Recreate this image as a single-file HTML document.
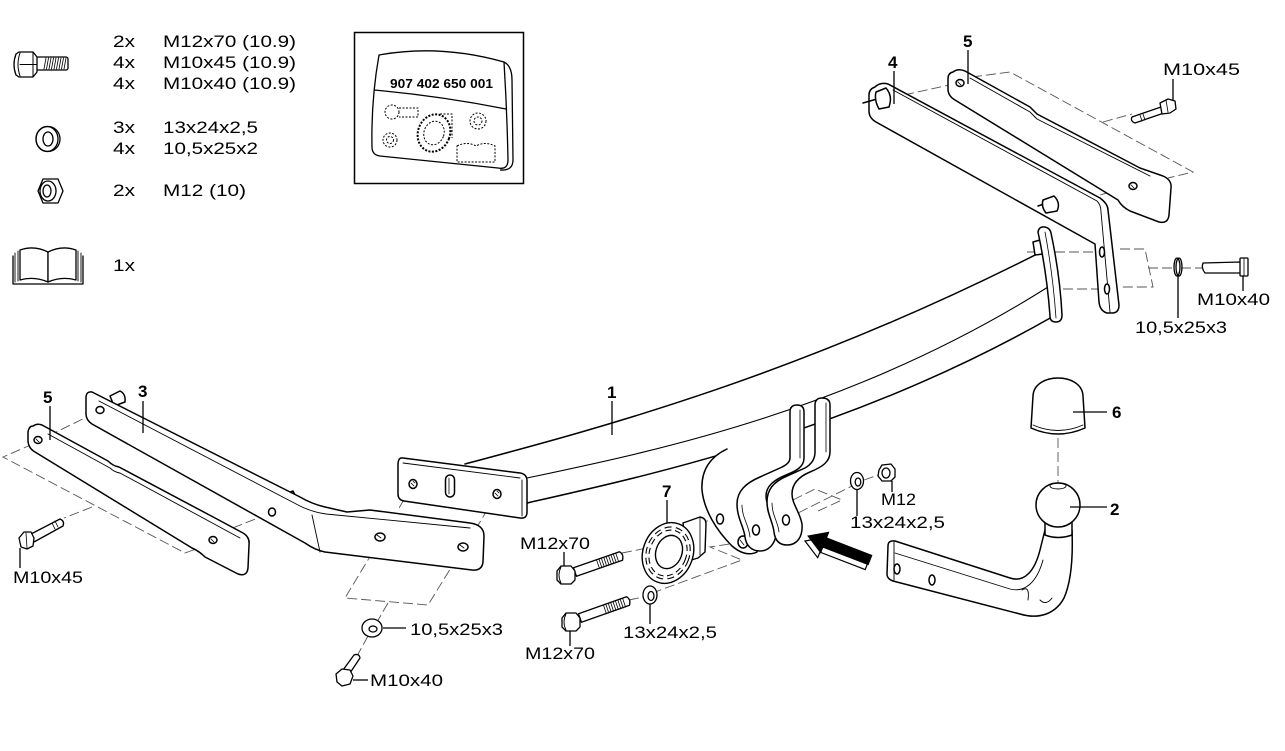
<!DOCTYPE html>
<html><head><meta charset="utf-8"><style>
html,body{margin:0;padding:0;background:#fff;}
svg{display:block}
text{font-family:"Liberation Sans",Arial,sans-serif;fill:#000;stroke:none}
.n{font-weight:bold;font-size:17px}
.l{font-size:17px}
</style></head><body>
<svg width="1285" height="751" viewBox="0 0 1285 751" xmlns="http://www.w3.org/2000/svg">
<rect width="1285" height="751" fill="#fff"/>

<!-- LEGEND ICONS -->
<g fill="#fff" stroke="#000" stroke-width="1.3" stroke-linejoin="round" stroke-linecap="round">
  <!-- bolt -->
  <rect x="36" y="57" width="32" height="13" rx="2"/>
  <path d="M46,58 l-2,11 M48.5,58 l-2,11 M51,58 l-2,11 M53.5,58 l-2,11 M56,58 l-2,11 M58.5,58 l-2,11 M61,58 l-2,11 M63.5,58 l-2,11 M66,58 l-2,11" fill="none" stroke-width="0.8"/>
  <path d="M16,54 Q12,64.5 16,75 L19,77 L33,77 L37,72 L37,57 L33,52 L19,52 Z"/>
  <path d="M20,53 Q16,64.5 20,76 M33,52 V77 M20,64.5 H37" fill="none" stroke-width="1"/>
  <!-- washer -->
  <ellipse cx="48" cy="139" rx="12" ry="12.5"/>
  <ellipse cx="47" cy="139" rx="11" ry="12.5" fill="none"/>
  <ellipse cx="48" cy="139" rx="5" ry="7"/>
  <!-- nut -->
  <polygon points="38,191 43,179 58,179 63,191 58,203 43,203"/>
  <ellipse cx="48" cy="191" rx="8" ry="10" fill="none"/>
  <ellipse cx="47" cy="191" rx="4" ry="6" fill="none"/>
  <!-- book -->
  <path d="M13,256 V284 H83 V256" fill="none"/>
  <path d="M15,253 V282 M18,251 V281 M78,251 V281 M81,253 V282" fill="none" stroke-width="0.9"/>
  <path d="M20,250 Q34,245 48,252 L48,282 Q34,276 20,280 Z"/>
  <path d="M48,252 Q62,245 76,250 L76,280 Q62,276 48,282 Z"/>
</g>

<!-- LEGEND TEXT -->
<text class="l" x="113" y="47" textLength="22" lengthAdjust="spacingAndGlyphs">2x</text>
<text class="l" x="163" y="47" textLength="133" lengthAdjust="spacingAndGlyphs">M12x70 (10.9)</text>
<text class="l" x="113" y="68" textLength="22" lengthAdjust="spacingAndGlyphs">4x</text>
<text class="l" x="163" y="68" textLength="133" lengthAdjust="spacingAndGlyphs">M10x45 (10.9)</text>
<text class="l" x="113" y="89" textLength="22" lengthAdjust="spacingAndGlyphs">4x</text>
<text class="l" x="163" y="89" textLength="133" lengthAdjust="spacingAndGlyphs">M10x40 (10.9)</text>
<text class="l" x="113" y="133" textLength="22" lengthAdjust="spacingAndGlyphs">3x</text>
<text class="l" x="163" y="133" textLength="95" lengthAdjust="spacingAndGlyphs">13x24x2,5</text>
<text class="l" x="113" y="154" textLength="22" lengthAdjust="spacingAndGlyphs">4x</text>
<text class="l" x="163" y="154" textLength="95" lengthAdjust="spacingAndGlyphs">10,5x25x2</text>
<text class="l" x="113" y="196" textLength="22" lengthAdjust="spacingAndGlyphs">2x</text>
<text class="l" x="163" y="196" textLength="83" lengthAdjust="spacingAndGlyphs">M12 (10)</text>
<text class="l" x="113" y="271" textLength="22" lengthAdjust="spacingAndGlyphs">1x</text>

<!-- KIT BOX -->
<rect x="354.5" y="32.5" width="169" height="151" fill="none" stroke="#000" stroke-width="1.5"/>
<g fill="none" stroke="#000" stroke-width="1.3" stroke-linejoin="round">
  <path d="M379,55 Q440,44 504,62 Q507,110 508,160 Q508,170 498,168 Q440,162 380,156 Q372,155 372,147 Q371,100 379,55 Z" fill="#fff"/>
  <path d="M504,62 Q512,66 512,80 L513,160 Q513,171 500,170"/>
  <path d="M374,90 Q440,96 506,109"/>
  <g stroke-dasharray="2 1.5" stroke-width="1">
    <circle cx="392" cy="112" r="7"/>
    <path d="M399,108 H418 V117 H399"/>
    <circle cx="390" cy="140" r="7"/>
    <circle cx="390" cy="140" r="3.5"/>
    <ellipse cx="434" cy="133" rx="16" ry="19" transform="rotate(20 434 133)" stroke-width="2"/>
    <ellipse cx="434" cy="133" rx="10" ry="12" transform="rotate(20 434 133)"/>
    <path d="M440,114 H452 V138"/>
    <circle cx="478" cy="121" r="8"/>
    <circle cx="478" cy="121" r="4"/>
    <path d="M457,146 Q467,141 476,146 Q485,141 495,146 V162 H457 Z"/>
  </g>
</g>
<text x="390" y="88" font-weight="bold" font-size="12.5" textLength="103" lengthAdjust="spacingAndGlyphs">907 402 650 001</text>

<!-- DASHED ASSEMBLY LINES -->
<g fill="none" stroke="#555" stroke-width="0.9" stroke-dasharray="10 4">
  <path d="M904,95 L958,83"/>
  <path d="M972,77 L1010,72 L1193,172 L1168,178"/>
  <path d="M1103,122 L1132,114"/>
  <path d="M1060,207 L1130,186"/>
  <path d="M1027,252 L1100,252"/>
  <path d="M1063,289 L1110,289"/>
  <path d="M1120,249 L1145,249 L1153,287 L1122,287"/>
  <path d="M1148,268 L1174,268"/>
  <path d="M1181,268 L1203,268"/>
  <path d="M95,413 L50,435"/>
  <path d="M33,444 L3,457 L185,553 L207,545"/>
  <path d="M92,507 L64,518"/>
  <path d="M268,514 L220,533"/>
  <path d="M411,487 L398,510"/>
  <path d="M495,497 L477,527"/>
  <path d="M380,540 L345,598 L428,605 L462,550"/>
  <path d="M388,603 L377,622"/>
  <path d="M368,636 L357,656"/>
  <path d="M622,553 L652,547"/>
  <path d="M698,523 L720,518"/>
  <path d="M743,542 L710,547 L742,560 L655,592"/>
  <path d="M629,600 L643,597"/>
  <path d="M786,519 L852,486"/>
  <path d="M864,480 L881,474"/>
  <path d="M793,500 L815,489 L842,500 L818,511"/>
  <path d="M1058,438 L1058,487"/>
</g>

<!-- MAIN BEAM (part 1) -->
<g fill="none" stroke="#000" stroke-width="1.5" stroke-linejoin="round" stroke-linecap="round">
  <path d="M465,464 C600,428 800,375 1045,250"/>
  <path d="M527,478 C650,452 850,412 1048,287" stroke-width="1.1"/>
  <path d="M527,503 C650,475 850,432 1052,317"/>
  <path d="M403,458 L520,473 Q527,474 527,481 L527,512 Q527,519 520,518 L404,501 Q398,500 398,494 L398,465 Q398,457 403,458 Z" fill="#fff"/>
  <path d="M403,463 L520,478 M522,480 L522,516" stroke-width="0.9"/>
  <ellipse cx="413" cy="484" rx="4" ry="4.5" fill="#fff"/>
  <path d="M411,483 l3,3 M413,481 l2,2" stroke-width="0.8"/>
  <ellipse cx="497" cy="494" rx="4" ry="4.5" fill="#fff"/>
  <path d="M495,493 l3,3 M497,491 l2,2" stroke-width="0.8"/>
  <rect x="445.5" y="475" width="9" height="22" rx="4.5" fill="#fff"/>
  <path d="M449,478 V494" stroke-width="0.8"/>
  <path d="M1033,242 L1040,240 L1043,254 L1035,255 Z" fill="#fff"/>
  <path d="M1038,232 Q1039,226 1045,227 Q1050,228 1051,233 Q1060,275 1062,315 Q1062,322 1056,322 Q1050,322 1050,316 Q1047,274 1038,232 Z" fill="#fff"/>
  <path d="M1045,232 Q1053,275 1056,318" stroke-width="0.8"/>
</g>

<!-- CENTER BRACKET -->
<g fill="#fff" stroke="#000" stroke-width="1.5" stroke-linejoin="round" stroke-linecap="round">
  <path d="M727,449 C708,458 701,472 702,490 C704,510 716,530 732,546 C740,553 749,556 757,552 L765,540 L760,495 L792,470 L792,430 Z" stroke="none"/>
  <path d="M727,449 C708,458 701,472 702,490 C704,510 716,530 732,546 C740,553 749,556 757,552" fill="none"/>
  <ellipse cx="720" cy="519" rx="3.5" ry="5"/>
  <ellipse cx="743" cy="542" rx="5" ry="6"/>
  <path d="M740,540 l4,5" fill="none" stroke-width="0.8"/>
  <path d="M790,458 L790,412 Q790,405 797,405 Q804,405 804,412 L804,458 C804,467 796,471 786,475 C774,480 766,486 766,496 C766,506 774,514 776,526 C778,540 771,551 760,551 C751,551 746,545 745,537 C744,527 737,518 737,504 C737,491 746,483 760,477 L780,468 C787,465 790,462 790,458 Z"/>
  <path d="M800,410 V458 M742,505 C742,518 749,525 750,537" fill="none" stroke-width="0.8"/>
  <ellipse cx="756" cy="530" rx="3.5" ry="5"/>
  <path d="M815,452 L815,405 Q815,398 822,398 Q830,398 830,405 L830,452 C830,462 822,467 810,472 C798,477 792,484 792,494 C792,504 800,512 802,524 C803,537 797,545 787,545 C779,545 775,540 774,532 C773,522 767,514 767,502 C767,490 773,482 787,476 L805,468 C812,464 815,459 815,452 Z"/>
  <path d="M826,403 V452 M772,503 C772,515 778,522 779,532" fill="none" stroke-width="0.8"/>
  <ellipse cx="786" cy="520" rx="3.5" ry="5"/>
</g>

<!-- PART 7 socket plate -->
<g stroke="#000" stroke-width="1.4" stroke-linejoin="round">
  <path d="M683,523 L700,517 Q706,518 706,524 L705,552 L698,558 L688,561 Z" fill="#fff"/>
  <path d="M700,517 L700,555" fill="none" stroke-width="0.8"/>
  <ellipse cx="668" cy="553" rx="25" ry="31" transform="rotate(20 668 553)" fill="#fff"/>
  <ellipse cx="668" cy="553" rx="20" ry="25" transform="rotate(20 668 553)" fill="none" stroke-width="4.2" stroke-dasharray="6.5 4"/>
  <ellipse cx="668" cy="553" rx="20" ry="25" transform="rotate(20 668 553)" fill="none" stroke="#fff" stroke-width="2" stroke-dasharray="6.5 4"/>
  <ellipse cx="669" cy="552" rx="13" ry="17" transform="rotate(20 669 552)" fill="#fff"/>
</g>

<!-- LEFT PARTS 3 & 5 -->
<g fill="#fff" stroke="#000" stroke-width="1.5" stroke-linejoin="round" stroke-linecap="round">
  <path d="M110,396 L120,391 Q126,394 125,402 L114,406 Z"/>
  <path d="M286,494 L293,491 L296,497 L290,499 Z"/>
  <path d="M92,392 L300,497 Q312,504 325,507 L347,512 L370,510 L470,523 Q484,525 484,536 L483,562 Q482,571 472,570 L325,552 Q315,550 305,543 L92,424 Q86,420 86,414 L86,398 Q86,391 92,392 Z"/>
  <path d="M99,401 L300,506 Q312,512 326,514 L470,528" fill="none" stroke-width="0.9"/>
  <path d="M312,515 L320,552" fill="none" stroke-width="0.9"/>
  <ellipse cx="100" cy="410" rx="4" ry="3.5"/>
  <ellipse cx="272" cy="512" rx="3.5" ry="4"/>
  <ellipse cx="380" cy="537" rx="5" ry="4"/>
  <path d="M377,535 l4,3" fill="none" stroke-width="0.8"/>
  <ellipse cx="463" cy="547" rx="5" ry="4"/>
  <path d="M460,545 l4,3" fill="none" stroke-width="0.8"/>
  <path d="M33,426 Q37,423 42,425 L108,461 Q113,466 119,467 L215,518 L243,533 Q250,537 249,545 L248,568 Q247,577 238,574 L205,557 Q199,551 192,548 L35,452 Q28,448 28,440 L28,432 Q29,426 33,426 Z"/>
  <path d="M48,434 L110,468 Q114,472 120,473 L240,538" fill="none" stroke-width="0.9"/>
  <ellipse cx="38" cy="440" rx="4" ry="3.5"/>
  <path d="M36,439 l3,3" fill="none" stroke-width="0.8"/>
  <ellipse cx="213" cy="540" rx="4" ry="3.5"/>
  <path d="M211,539 l3,3" fill="none" stroke-width="0.8"/>
</g>

<!-- RIGHT PARTS 4 & 5 -->
<g fill="#fff" stroke="#000" stroke-width="1.5" stroke-linejoin="round" stroke-linecap="round">
  <path d="M875,87 Q880,82 888,84 L1100,198 Q1108,204 1108,210 L1119,305 Q1119,313 1112,313 L1107,313 Q1100,311 1099,302 L1095,244 L876,122 Q869,118 869,111 L869,95 Q869,89 875,87 Z"/>
  <path d="M893,90 L1097,201 Q1101,205 1101,212 L1110,312" fill="none" stroke-width="0.9"/>
  <ellipse cx="1102" cy="252" rx="2.5" ry="5"/>
  <ellipse cx="1107" cy="289" rx="2.5" ry="5"/>
  <path d="M863,103 L877,99" fill="none"/>
  <path d="M876,92 L886,88 Q893,96 889,107 L879,109 Q874,100 876,92 Z"/>
  <path d="M1038,206 L1044,204" fill="none"/>
  <path d="M1043,200 L1054,196 Q1061,203 1057,211 L1046,213 Q1041,207 1043,200 Z"/>
  <path d="M953,72 Q958,68 965,71 L1030,107 L1037,114 L1140,168 L1163,176 Q1172,180 1171,188 L1169,215 Q1168,224 1159,222 L1130,211 Q1122,207 1118,200 L955,100 Q948,96 948,89 L948,79 Q948,73 953,72 Z"/>
  <path d="M970,78 L1030,112 L1037,119 L1150,176" fill="none" stroke-width="0.9"/>
  <ellipse cx="960" cy="83" rx="4" ry="3.5"/>
  <path d="M958,82 l3,3" fill="none" stroke-width="0.8"/>
  <ellipse cx="1133" cy="186" rx="4" ry="3.5"/>
  <path d="M1131,185 l3,3" fill="none" stroke-width="0.8"/>
</g>

<!-- BOLTS / WASHERS / NUTS -->
<g fill="#fff" stroke="#000" stroke-width="1.3" stroke-linejoin="round" stroke-linecap="round">
  <path d="M1132,117 L1161,107 L1164,113 L1135,123 Q1130,121 1132,117 Z"/>
  <path d="M1140,115 l2,6 M1143,114 l2,6" fill="none" stroke-width="0.8"/>
  <path d="M1160,103 L1168,99 L1175,101 L1176,109 L1170,113 L1162,114 Z"/>
  <path d="M1166,100 L1168,112" fill="none" stroke-width="0.8"/>
  <ellipse cx="1177" cy="267" rx="3" ry="9"/>
  <ellipse cx="1179" cy="267" rx="3" ry="9" fill="none"/>
  <path d="M1203,263 L1240,262 L1241,273 L1205,273 Q1201,268 1203,263 Z"/>
  <rect x="1240" y="258" width="8" height="18" rx="1"/>
  <path d="M1244,258 V276" fill="none" stroke-width="0.8"/>
  <path d="M31,534 L60,519 Q65,521 63,526 L34,542 Z"/>
  <path d="M52,523 l3,6 M55,521 l3,6" fill="none" stroke-width="0.8"/>
  <path d="M19,538 L24,532 L31,532 L34,538 L33,546 L27,549 L21,547 Z"/>
  <path d="M26,533 L27,548" fill="none" stroke-width="0.8"/>
  <ellipse cx="372" cy="628" rx="10" ry="9"/>
  <ellipse cx="373" cy="629" rx="4" ry="3"/>
  <path d="M343,670 L354,655 Q359,653 360,658 L350,673 Z"/>
  <path d="M336,674 L342,669 L350,670 L353,676 L350,684 L342,686 L337,682 Z"/>
  <path d="M576.5,576.3 L573.5,567.8 L619.5,551.8 Q624,554 622.5,560.3 Z"/>
  <path d="M596.5,559.8 l2.9,8.5 M598.9,559 l2.9,8.5 M601.3,558.1 l2.9,8.5 M603.7,557.3 l2.9,8.5 M606.1,556.5 l2.9,8.5 M608.5,555.6 l2.9,8.5 M610.9,554.8 l2.9,8.5 M613.3,554 l2.9,8.5 M615.7,553.1 l2.9,8.5" fill="none" stroke-width="0.8"/>
  <polygon points="557,571 561,566 571,566 575,571 575,580 571,584 561,584 557,580"/>
  <path d="M561,567 Q557,575 561,583" fill="none" stroke-width="0.9"/>
  <path d="M581.5,622.3 L578.5,613.8 L626.5,596.8 Q631,599 629.5,605.3 Z"/>
  <path d="M603.5,605.3 l2.9,8.5 M605.9,604.5 l2.9,8.5 M608.3,603.6 l2.9,8.5 M610.7,602.8 l2.9,8.5 M613.1,602 l2.9,8.5 M615.5,601.1 l2.9,8.5 M617.9,600.3 l2.9,8.5 M620.3,599.5 l2.9,8.5 M622.7,598.6 l2.9,8.5" fill="none" stroke-width="0.8"/>
  <polygon points="562,618 566,613 576,613 580,618 580,627 576,631 566,631 562,627"/>
  <path d="M566,614 Q562,622 566,630" fill="none" stroke-width="0.9"/>
  <ellipse cx="650" cy="595" rx="7" ry="9"/>
  <ellipse cx="651" cy="596" rx="3" ry="4.5"/>
  <ellipse cx="857" cy="481" rx="6.5" ry="8.5"/>
  <ellipse cx="858" cy="482" rx="2.8" ry="4"/>
  <polygon points="879,470 882,465 891,464 895,469 895,477 891,481 882,481 878,476"/>
  <ellipse cx="886" cy="473" rx="4" ry="5" fill="none"/>
</g>

<!-- ARROW -->
<g stroke-linejoin="miter">
  <polygon points="805,541 825.7,537.3 823.5,542.9 868.8,560.4 865.2,569.6 819.9,552.1 817.7,557.7" fill="#fff" stroke="#000" stroke-width="1.2"/>
  <polygon points="808,536 828.7,532.3 826.5,537.9 871.8,555.4 868.2,564.6 822.9,547.1 820.7,552.7" fill="#000" stroke="#000" stroke-width="1"/>
</g>

<!-- HOOK part 2, BALL, CAP 6 -->
<g fill="#fff" stroke="#000" stroke-width="1.5" stroke-linejoin="round" stroke-linecap="round">
  <path d="M888,546 Q888,540 895,541 L1010,578 C1025,583 1035,570 1040,550 L1045,530 L1072,530 C1073,555 1072,580 1064,598 C1056,613 1040,620 1020,614 L893,581 Q887,579 887,574 Z"/>
  <path d="M894,542 L894,580 M895,553 L1010,589 C1025,593 1037,582 1043,560" fill="none" stroke-width="0.9"/>
  <path d="M1022,590 Q1030,585 1028,600 M1040,600 Q1046,606 1052,598" fill="none" stroke-width="0.9"/>
  <ellipse cx="897" cy="569" rx="3" ry="5"/>
  <ellipse cx="932" cy="580" rx="3" ry="5"/>
  <path d="M1045,520 L1045,535 Q1058,540 1072,535 L1072,520 Z"/>
  <circle cx="1058" cy="505" r="22"/>
  <ellipse cx="1058" cy="486" rx="8" ry="3" fill="none" stroke-width="0.9"/>
  <path d="M1031,428 L1033,396 C1034,372 1082,372 1083,396 L1085,428 Q1058,440 1031,428 Z"/>
  <path d="M1033,425 Q1058,436 1083,425" fill="none" stroke-width="0.9"/>
</g>

<!-- LEADER LINES -->
<g fill="none" stroke="#000" stroke-width="1.3">
  <path d="M50,406 V440"/>
  <path d="M143,401 V433"/>
  <path d="M612,401 V435"/>
  <path d="M894,71 V104"/>
  <path d="M968,50 V84"/>
  <path d="M667,500 V523"/>
  <path d="M1073,412 H1107"/>
  <path d="M1070,507 H1107"/>
  <path d="M1173,79 V101"/>
  <path d="M1243,276 V291"/>
  <path d="M1178,276 V318"/>
  <path d="M892,481 V492"/>
  <path d="M857,490 V516"/>
  <path d="M564,552 V566"/>
  <path d="M650,604 V624"/>
  <path d="M570,631 V646"/>
  <path d="M383,628 H406"/>
  <path d="M353,680 H368"/>
  <path d="M20,548 V568"/>
</g>

<!-- PART NUMBERS -->
<text class="n" x="43" y="403">5</text>
<text class="n" x="138" y="397">3</text>
<text class="n" x="607" y="398">1</text>
<text class="n" x="888" y="68">4</text>
<text class="n" x="963" y="47">5</text>
<text class="n" x="662" y="497">7</text>
<text class="n" x="1112" y="418">6</text>
<text class="n" x="1110" y="515">2</text>

<!-- LABELS -->
<text class="l" x="1163" y="75" textLength="77" lengthAdjust="spacingAndGlyphs">M10x45</text>
<text class="l" x="1197" y="305" textLength="73" lengthAdjust="spacingAndGlyphs">M10x40</text>
<text class="l" x="1135" y="333" textLength="92" lengthAdjust="spacingAndGlyphs">10,5x25x3</text>
<text class="l" x="881" y="505" textLength="35" lengthAdjust="spacingAndGlyphs">M12</text>
<text class="l" x="850" y="528" textLength="95" lengthAdjust="spacingAndGlyphs">13x24x2,5</text>
<text class="l" x="520" y="549" textLength="70" lengthAdjust="spacingAndGlyphs">M12x70</text>
<text class="l" x="623" y="638" textLength="94" lengthAdjust="spacingAndGlyphs">13x24x2,5</text>
<text class="l" x="525" y="659" textLength="70" lengthAdjust="spacingAndGlyphs">M12x70</text>
<text class="l" x="410" y="635" textLength="93" lengthAdjust="spacingAndGlyphs">10,5x25x3</text>
<text class="l" x="370" y="686" textLength="73" lengthAdjust="spacingAndGlyphs">M10x40</text>
<text class="l" x="13" y="583" textLength="70" lengthAdjust="spacingAndGlyphs">M10x45</text>
</svg>
</body></html>
